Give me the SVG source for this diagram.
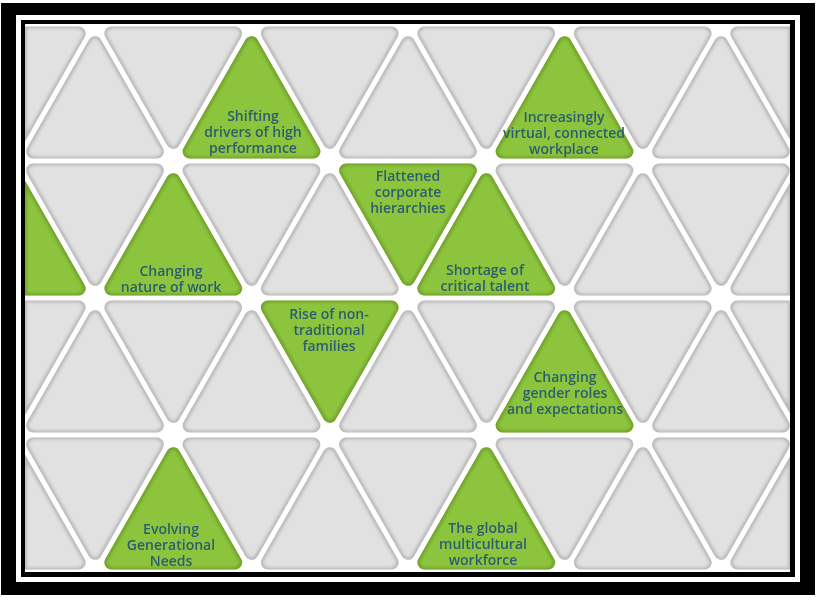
<svg xmlns="http://www.w3.org/2000/svg" xmlns:xlink="http://www.w3.org/1999/xlink" width="817" height="598" viewBox="0 0 817 598">
<defs>
<style>
.gray{fill:#e1e1e1;stroke:#e1e1e1;stroke-width:14;stroke-linejoin:round}
.green{fill:#8cc43e;stroke:#8cc43e;stroke-width:14;stroke-linejoin:round}
.lbl{font-family:"Open Sans","Liberation Sans",sans-serif;font-size:14px;font-weight:600;fill:#2c5d70;text-anchor:middle}
</style>
<path id="up" d="M0,19.16 L61.89,127.5 L-61.89,127.5 Z"/>
<path id="dn" d="M0,117.84 L61.89,9.5 L-61.89,9.5 Z"/>
<clipPath id="area"><rect x="25" y="24" width="765" height="548"/></clipPath>
<filter id="bev" x="-10%" y="-10%" width="120%" height="120%">
<feMorphology in="SourceAlpha" operator="erode" radius="2" result="e"/>
<feGaussianBlur in="e" stdDeviation="1.4" result="b"/>
<feFlood flood-color="#000" flood-opacity="0.34"/>
<feComposite in2="SourceAlpha" operator="in" result="dark"/>
<feComposite in="SourceGraphic" in2="b" operator="in" result="inner"/>
<feMerge><feMergeNode in="SourceGraphic"/><feMergeNode in="dark"/><feMergeNode in="inner"/></feMerge>
</filter>
</defs>
<rect width="817" height="598" fill="#fff"/>
<rect x="1" y="3" width="814" height="592" fill="#000"/>
<rect x="16" y="15" width="784" height="567" fill="#fff"/>
<rect x="21" y="20" width="774" height="557" fill="#000"/>
<rect x="25" y="24" width="765" height="548" fill="#fff"/>

<g id="tiles" filter="url(#bev)">
<g clip-path="url(#area)" class="gray">
<!-- row 1 -->
<use href="#up" x="95" y="24"/>
<use href="#up" x="408" y="24"/>
<use href="#up" x="721" y="24"/>
<use href="#dn" x="16.75" y="24"/>
<use href="#dn" x="173.25" y="24"/>
<use href="#dn" x="329.75" y="24"/>
<use href="#dn" x="486.25" y="24"/>
<use href="#dn" x="642.75" y="24"/>
<use href="#dn" x="799.25" y="24"/>
<!-- row 2 -->
<use href="#up" x="329.75" y="161"/>
<use href="#up" x="642.75" y="161"/>
<use href="#up" x="799.25" y="161"/>
<use href="#dn" x="95" y="161"/>
<use href="#dn" x="251.5" y="161"/>
<use href="#dn" x="564.5" y="161"/>
<use href="#dn" x="721" y="161"/>
<!-- row 3 -->
<use href="#up" x="95" y="298"/>
<use href="#up" x="251.5" y="298"/>
<use href="#up" x="408" y="298"/>
<use href="#up" x="721" y="298"/>
<use href="#dn" x="16.75" y="298"/>
<use href="#dn" x="173.25" y="298"/>
<use href="#dn" x="486.25" y="298"/>
<use href="#dn" x="642.75" y="298"/>
<use href="#dn" x="799.25" y="298"/>
<!-- row 4 -->
<use href="#up" x="16.75" y="435"/>
<use href="#up" x="329.75" y="435"/>
<use href="#up" x="642.75" y="435"/>
<use href="#up" x="799.25" y="435"/>
<use href="#dn" x="95" y="435"/>
<use href="#dn" x="251.5" y="435"/>
<use href="#dn" x="408" y="435"/>
<use href="#dn" x="564.5" y="435"/>
<use href="#dn" x="721" y="435"/>
</g>
</g>

<g id="left-partial" filter="url(#bev)">
<g clip-path="url(#area)"><use href="#up" x="16.75" y="161" class="green"/></g>
</g>

<g id="shifting-drivers">
<use href="#up" x="251.5" y="24" class="green" filter="url(#bev)"/>
<text class="lbl" x="253" y="121">Shifting</text>
<text class="lbl" x="253" y="137">drivers of high</text>
<text class="lbl" x="253" y="153">performance</text>
</g>

<g id="virtual-workplace">
<use href="#up" x="564.5" y="24" class="green" filter="url(#bev)"/>
<text class="lbl" x="564" y="122">Increasingly</text>
<text class="lbl" x="564" y="138">virtual, connected</text>
<text class="lbl" x="564" y="154">workplace</text>
</g>

<g id="flattened-hierarchies">
<use href="#dn" x="408" y="161" class="green" filter="url(#bev)"/>
<text class="lbl" x="408" y="181">Flattened</text>
<text class="lbl" x="408" y="197">corporate</text>
<text class="lbl" x="408" y="213">hierarchies</text>
</g>

<g id="nature-of-work">
<use href="#up" x="173.25" y="161" class="green" filter="url(#bev)"/>
<text class="lbl" x="171" y="276">Changing</text>
<text class="lbl" x="171" y="292">nature of work</text>
</g>

<g id="critical-talent">
<use href="#up" x="486.25" y="161" class="green" filter="url(#bev)"/>
<text class="lbl" x="485" y="275">Shortage of</text>
<text class="lbl" x="485" y="291">critical talent</text>
</g>

<g id="non-traditional-families">
<use href="#dn" x="329.75" y="298" class="green" filter="url(#bev)"/>
<text class="lbl" x="329" y="319">Rise of non-</text>
<text class="lbl" x="329" y="335">traditional</text>
<text class="lbl" x="329" y="351">families</text>
</g>

<g id="gender-roles">
<use href="#up" x="564.5" y="298" class="green" filter="url(#bev)"/>
<text class="lbl" x="565" y="382">Changing</text>
<text class="lbl" x="565" y="398">gender roles</text>
<text class="lbl" x="565" y="414">and expectations</text>
</g>

<g id="generational-needs">
<use href="#up" x="173.25" y="435" class="green" filter="url(#bev)"/>
<text class="lbl" x="171" y="534">Evolving</text>
<text class="lbl" x="171" y="550">Generational</text>
<text class="lbl" x="171" y="566">Needs</text>
</g>

<g id="global-workforce">
<use href="#up" x="486.25" y="435" class="green" filter="url(#bev)"/>
<text class="lbl" x="483" y="533">The global</text>
<text class="lbl" x="483" y="549">multicultural</text>
<text class="lbl" x="483" y="565">workforce</text>
</g>
</svg>
